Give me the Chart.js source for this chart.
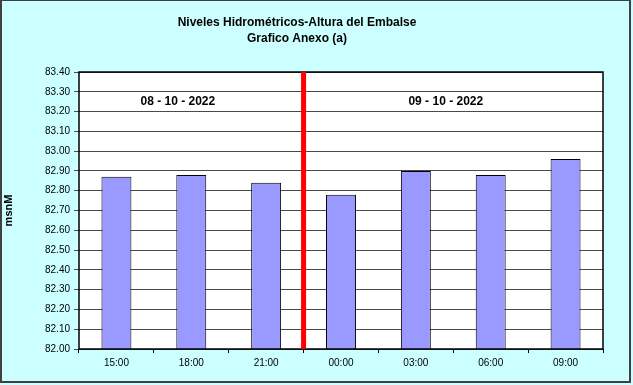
<!DOCTYPE html>
<html lang="es">
<head>
    <meta charset="UTF-8">
    <title>Niveles Hidrométricos</title>
    <script src="https://cdn.jsdelivr.net/npm/chart.js"></script>
    <style>
        body { margin: 0; background: #fff; }
        #wrap { width: 633px; height: 385px; }
    </style>
</head>
<body>
    <div id="wrap"><canvas id="chart" width="633" height="385"></canvas></div>
    <script>
        const horas = ['15:00', '18:00', '21:00', '00:00', '03:00', '06:00', '09:00'];
        const alturas = [82.87, 82.88, 82.84, 82.78, 82.90, 82.88, 82.96];
        const titulo = ['Niveles Hidrométricos-Altura del Embalse', 'Grafico Anexo (a)'];
        const fechas = ['08 - 10 - 2022', '09 - 10 - 2022'];
        const posFechas = [0.82, 4.4];   // posicion en el eje de categorias
        const corteDia = 2.5;            // entre 21:00 y 00:00
        const yMin = 82.0, yMax = 83.4, yPaso = 0.1;

        // fondo, borde, titulo, linea roja y fechas
        const decoracion = {
            id: 'decoracion',
            beforeDraw(chart) {
                const ctx = chart.ctx;
                ctx.save();
                ctx.fillStyle = '#ccffff';
                ctx.fillRect(0, 0, chart.width, chart.height);
                ctx.fillStyle = '#404040';
                ctx.fillRect(0, 0, 2, 383);
                ctx.fillRect(0, 0, 631, 1);
                ctx.fillRect(629, 0, 2, 383);
                ctx.fillRect(0, 381, 631, 2);
                const a = chart.chartArea;
                ctx.fillStyle = '#ffffff';
                ctx.fillRect(a.left, a.top, a.right - a.left, a.bottom - a.top);
                ctx.restore();
            },
            afterDraw(chart) {
                const ctx = chart.ctx;
                const a = chart.chartArea;
                const x = chart.scales.x, y = chart.scales.y;
                ctx.save();
                ctx.strokeStyle = '#000';
                ctx.lineWidth = 1.5;
                ctx.strokeRect(a.left, a.top, a.right - a.left, a.bottom - a.top);

                const xr = x.getPixelForValue(corteDia);
                ctx.strokeStyle = '#ff0000';
                ctx.lineWidth = 5;
                ctx.beginPath();
                ctx.moveTo(xr, a.top);
                ctx.lineTo(xr, a.bottom);
                ctx.stroke();

                ctx.fillStyle = '#000';
                ctx.textAlign = 'center';
                ctx.textBaseline = 'middle';
                ctx.font = 'bold 12px "Liberation Sans", Arial, sans-serif';
                fechas.forEach((f, i) => {
                    ctx.fillText(f, x.getPixelForValue(posFechas[i]), y.getPixelForValue(83.25));
                });

                ctx.font = 'bold 12px "Liberation Sans", Arial, sans-serif';
                ctx.fillText(titulo[0], 297, 23);
                ctx.fillText(titulo[1], 297, 39);
                ctx.restore();
            }
        };

        new Chart(document.getElementById('chart'), {
            type: 'bar',
            data: {
                labels: horas,
                datasets: [{
                    data: alturas,
                    backgroundColor: '#9999ff',
                    borderColor: '#000000',
                    borderWidth: 1,
                    categoryPercentage: 1,
                    barPercentage: 0.4
                }]
            },
            options: {
                responsive: false,
                animation: false,
                layout: { padding: { top: 72, right: 30, left: 0, bottom: 0 } },
                plugins: {
                    legend: { display: false },
                    tooltip: { enabled: false }
                },
                scales: {
                    x: {
                        afterFit(s) { s.height = 36; },
                        grid: { drawOnChartArea: false, color: '#000', tickLength: 4 },
                        border: { display: false },
                        ticks: { color: '#000', padding: 4, font: { family: '"Liberation Sans", Arial', size: 10 } }
                    },
                    y: {
                        min: yMin,
                        max: yMax,
                        afterFit(s) { s.width = 79; },
                        grid: { color: '#4a4a4a', tickLength: 5 },
                        border: { display: false },
                        ticks: {
                            stepSize: yPaso,
                            color: '#000',
                            padding: 4,
                            font: { family: '"Liberation Sans", Arial', size: 10 },
                            callback: v => v.toFixed(2)
                        },
                        title: {
                            display: true,
                            text: 'msnM',
                            color: '#000',
                            padding: { top: 2, bottom: 0 },
                            font: { family: '"Liberation Sans", Arial', size: 11, weight: 'bold' }
                        }
                    }
                }
            },
            plugins: [decoracion]
        });
    </script>
</body>
</html>
